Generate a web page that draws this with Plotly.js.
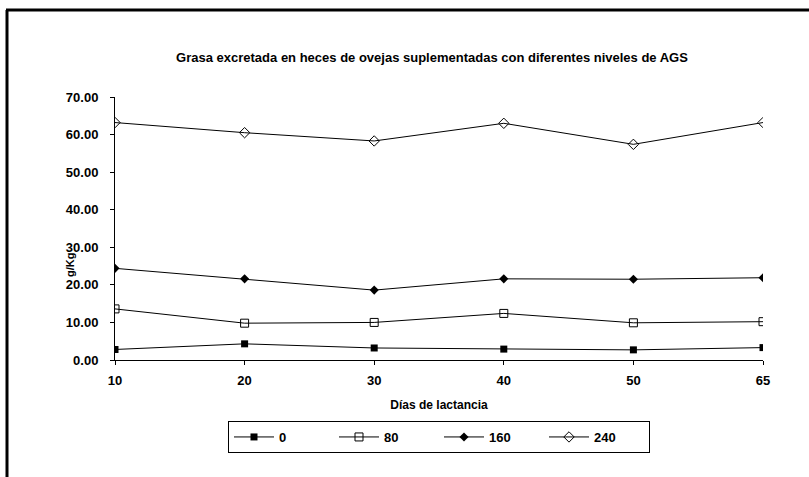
<!DOCTYPE html>
<html>
<head>
<meta charset="utf-8">
<script src="https://cdn.plot.ly/plotly-3.0.1.min.js"></script>
<style>html,body{margin:0;padding:0;background:#fff;}#chart{width:809px;height:477px;}</style>
</head>
<body>
<div id="chart"></div>
<script>
// Data
const dias = ["10", "20", "30", "40", "50", "65"];
const serie0 = [2.8, 4.3, 3.2, 2.9, 2.7, 3.3];
const serie80 = [13.6, 9.8, 10.0, 12.4, 9.9, 10.2];
const serie160 = [24.4, 21.6, 18.6, 21.6, 21.5, 21.9];
const serie240 = [63.2, 60.5, 58.3, 63.0, 57.4, 63.2];
const seriesNames = ["0", "80", "160", "240"];
const tickVals = [0, 10, 20, 30, 40, 50, 60, 70];

const FONT = "Liberation Sans, Arial, sans-serif";
const line = {color: "#000", width: 1};
const traces = [
  {x: dias, y: serie0, name: seriesNames[0], mode: "lines+markers", line: line,
   marker: {symbol: "square", size: 7, color: "#000"}},
  {x: dias, y: serie80, name: seriesNames[1], mode: "lines+markers", line: line,
   marker: {symbol: "square-open", size: 8, color: "#000", line: {width: 1}}},
  {x: dias, y: serie160, name: seriesNames[2], mode: "lines+markers", line: line,
   marker: {symbol: "diamond", size: 7, color: "#000"}},
  {x: dias, y: serie240, name: seriesNames[3], mode: "lines+markers", line: line,
   marker: {symbol: "diamond-open", size: 8, color: "#000", line: {width: 1}}}
];

const W = 809, H = 477, mL = 115, mR = 46, mT = 97, mB = 117;
const pw = W - mL - mR, ph = H - mT - mB;
const px = v => (v - mL) / pw;
const py = v => (H - mB - v) / ph;

const layout = {
  width: W, height: H,
  margin: {l: mL, r: mR, t: mT, b: mB},
  paper_bgcolor: "#fff", plot_bgcolor: "#fff",
  font: {family: FONT, color: "#000", size: 12},
  showlegend: true,
  title: {text: "Grasa excretada en heces de ovejas suplementadas con diferentes niveles de AGS",
          font: {family: FONT, size: 13, weight: "bold", color: "#000"},
          x: px(432), xref: "paper", xanchor: "center", y: 1 - 57 / H, yanchor: "middle"},
  xaxis: {type: "category", range: [0, 5], showgrid: false, zeroline: false,
          showline: true, linecolor: "#000", linewidth: 1,
          ticks: "outside", ticklen: 4, tickcolor: "#000", ticklabelstandoff: 4,
          tickfont: {family: FONT, size: 13, weight: "bold"},
          title: {text: "Días de lactancia", font: {family: FONT, size: 12, weight: "bold"}, standoff: 14}},
  yaxis: {range: [0, 70], tickvals: tickVals, tickformat: ".2f", showgrid: false, zeroline: false,
          showline: true, linecolor: "#000", linewidth: 1,
          ticks: "outside", ticklen: 4, tickcolor: "#000", ticklabelstandoff: 9,
          tickfont: {family: FONT, size: 13, weight: "bold"}},
  annotations: [
    {text: "g/Kg", xref: "paper", yref: "paper", x: px(70), y: py(265), showarrow: false,
     textangle: -90, xanchor: "center", yanchor: "middle",
     font: {family: FONT, size: 11, weight: "bold", color: "#000"}}
  ],
  legend: {orientation: "h", x: 0.5, xanchor: "center", y: py(421), yanchor: "top",
           bordercolor: "#000", borderwidth: 1, bgcolor: "#fff",
           font: {family: FONT, size: 13, weight: "bold"}, itemwidth: 40,
           entrywidth: 50},
  shapes: [
    {type: "line", xref: "paper", yref: "paper", x0: px(7), x1: px(7), y0: py(10), y1: py(H + 5),
     line: {color: "#000", width: 3}},
    {type: "line", xref: "paper", yref: "paper", x0: px(6), x1: px(W + 5), y0: py(10), y1: py(10),
     line: {color: "#000", width: 3}}
  ]
};

Plotly.newPlot("chart", traces, layout, {displayModeBar: false, staticPlot: true});
</script>
</body>
</html>
